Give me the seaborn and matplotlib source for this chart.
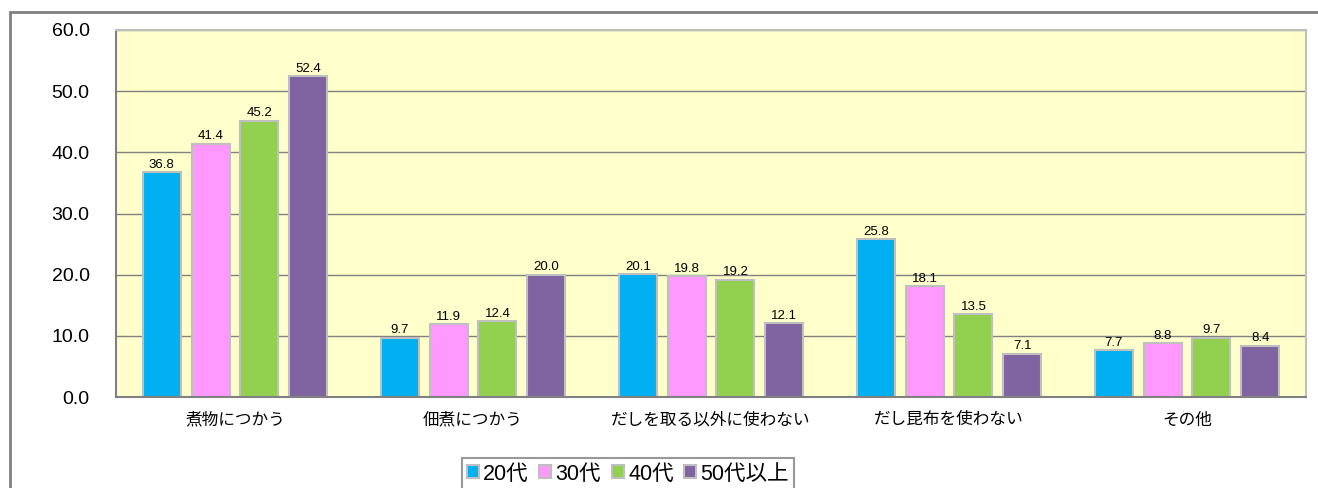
import pandas as pd
import numpy as np
import matplotlib
matplotlib.use("Agg")
import matplotlib.pyplot as plt
import matplotlib.patches as mpatches
import seaborn as sns

categories = ["煮物につかう", "佃煮につかう", "だしを取る以外に使わない", "だし昆布を使わない", "その他"]
ages = ["20代", "30代", "40代", "50代以上"]
v20 = [36.8, 9.7, 20.1, 25.8, 7.7]
v30 = [41.4, 11.9, 19.8, 18.1, 8.8]
v40 = [45.2, 12.4, 19.2, 13.5, 9.7]
v50 = [52.4, 20.0, 12.1, 7.1, 8.4]
colors = ["#00B0F0", "#FF99FF", "#92D050", "#8064A2"]

rows = []
for age, vals in zip(ages, [v20, v30, v40, v50]):
    for c, v in zip(categories, vals):
        rows.append({"cat": c, "age": age, "val": v})
df = pd.DataFrame(rows)

sns.set_style("white")
plt.rcParams['font.family'] = ['Liberation Sans', 'Noto Sans CJK JP', 'DejaVu Sans']
plt.rcParams['text.color'] = 'black'
plt.rcParams['xtick.color'] = 'black'
plt.rcParams['ytick.color'] = 'black'

fig = plt.figure(figsize=(13.18, 4.88), dpi=100)
ax = fig.add_axes([116/1318, 1-397/488, (1306-116)/1318, (397-30)/488])
ax.set_facecolor("#FFFFCC")

sns.barplot(data=df, x="cat", y="val", hue="age", palette=colors, saturation=1,
            width=0.82, gap=0.22, edgecolor="#BFBFBF", linewidth=1.5, ax=ax, legend=False)

for cont in ax.containers:
    ax.bar_label(cont, fmt="%.1f", fontsize=9.5, padding=1, color="black")

ax.set_ylim(0, 60)
ax.set_yticks(np.arange(0, 61, 10))
ax.set_yticklabels([f"{t:.1f}" for t in np.arange(0, 61, 10)], fontsize=14)
ax.yaxis.grid(True, color="#808080", linewidth=1)
ax.set_axisbelow(True)
ax.set_xlabel("")
ax.set_ylabel("")
ax.tick_params(axis="x", labelsize=12, length=0, pad=11)
ax.tick_params(axis="y", length=0, pad=19)
for s in ["left", "bottom"]:
    ax.spines[s].set_color("#808080")
    ax.spines[s].set_linewidth(1.5)
for s in ["top", "right"]:
    ax.spines[s].set_color("#C0C0C0")
    ax.spines[s].set_linewidth(1.5)

# outer frame
fig.patches.append(mpatches.Rectangle((10/1318, -0.05), 1.1, 1 - 12/488 + 0.05,
                                      transform=fig.transFigure, fill=False,
                                      edgecolor="#808080", linewidth=2))

handles = [mpatches.Patch(facecolor=c, edgecolor="#BFBFBF", linewidth=1.5, label=a)
           for c, a in zip(colors, ages)]
leg = fig.legend(handles=handles, loc="center", bbox_to_anchor=(628/1318, 1-474/488),
                 ncol=4, fontsize=15.5, frameon=True, fancybox=False,
                 handlelength=0.55, handleheight=0.55, handletextpad=0.2,
                 columnspacing=0.5, borderpad=0.25, borderaxespad=0)
leg.get_frame().set_edgecolor("#808080")
leg.get_frame().set_linewidth(1.5)

fig.savefig("out.png", dpi=100)
